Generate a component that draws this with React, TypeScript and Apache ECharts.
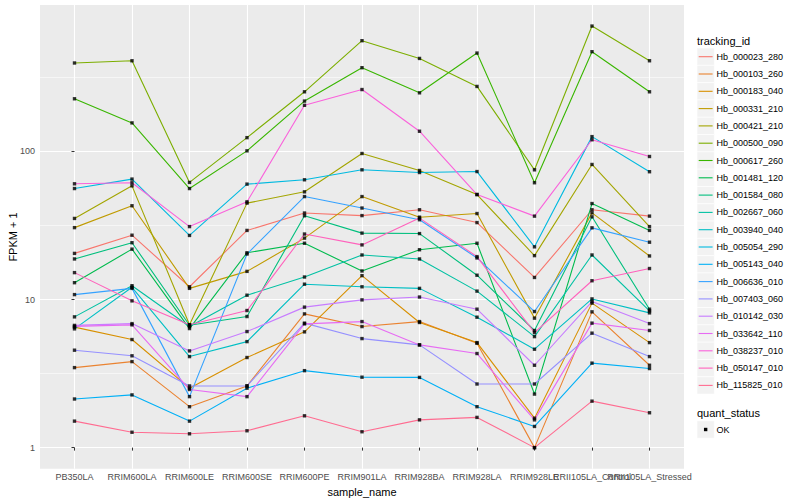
import React, { useEffect, useRef } from "react";
import * as echarts from "echarts";

const categories = [
  "PB350LA", "RRIM600LA", "RRIM600LE", "RRIM600SE", "RRIM600PE", "RRIM901LA",
  "RRIM928BA", "RRIM928LA", "RRIM928LE", "RRII105LA_Control", "RRII105LA_Stressed",
];

const trackingIds = [
  "Hb_000023_280", "Hb_000103_260", "Hb_000183_040", "Hb_000331_210", "Hb_000421_210",
  "Hb_000500_090", "Hb_000617_260", "Hb_001481_120", "Hb_001584_080", "Hb_002667_060",
  "Hb_003940_040", "Hb_005054_290", "Hb_005143_040", "Hb_006636_010", "Hb_007403_060",
  "Hb_010142_030", "Hb_033642_110", "Hb_038237_010", "Hb_050147_010", "Hb_115825_010",
];

const colors = [
  "#F8766D", "#EA8331", "#D89000", "#C09B00", "#A3A500", "#7CAE00", "#39B600", "#00BB4E",
  "#00BF7D", "#00C1A3", "#00BFC4", "#00BAE0", "#00B0F6", "#35A2FF", "#9590FF", "#C77CFF",
  "#E76BF3", "#FA62DB", "#FF62BC", "#FF6C91",
];

// FPKM + 1 per sample, in category order
const hb000023_280 = [20.5, 27.2, 12.2, 29.3, 38.4, 36.9, 40.4, 33.1, 14.1, 40.4, 36.6];
const hb000103_260 = [3.47, 3.81, 1.89, 2.61, 8.0, 6.57, 7.1, 5.07, 1.0, 8.26, 3.6];
const hb000183_040 = [6.51, 5.37, 2.52, 4.06, 6.05, 14.5, 7.0, 5.12, 1.58, 9.46, 5.12];
const hb000331_210 = [30.6, 43.0, 11.9, 15.5, 26.0, 49.6, 36.0, 38.1, 7.49, 38.5, 19.7];
const hb000421_210 = [35.3, 58.6, 6.75, 44.8, 53.4, 96.9, 74.4, 51.2, 19.8, 81.7, 31.1];
const hb000500_090 = [396, 410, 61.8, 124, 253, 560, 425, 275, 75.2, 703, 410];
const hb000617_260 = [227, 156, 56.2, 101, 219, 368, 249, 462, 61.5, 472, 253];
const hb001481_120 = [13.0, 21.9, 6.37, 20.7, 24.0, 15.6, 21.7, 24.0, 2.3, 44.5, 29.3];
const hb001584_080 = [18.8, 24.2, 6.71, 7.68, 36.8, 28.1, 27.9, 14.6, 6.18, 36.2, 8.61];
const hb002667_060 = [7.64, 12.4, 6.57, 10.7, 14.2, 20.0, 18.8, 11.4, 5.62, 20.0, 8.39];
const hb003940_040 = [6.34, 12.1, 4.12, 5.2, 12.7, 12.2, 11.9, 7.6, 4.62, 10.1, 8.13];
const hb005054_290 = [56.2, 65.1, 27.1, 60.2, 64.4, 75.2, 72.1, 73.2, 22.7, 126, 73.0];
const hb005143_040 = [2.13, 2.27, 1.51, 2.52, 3.31, 2.99, 2.98, 1.89, 1.39, 3.72, 3.42];
const hb006636_010 = [10.8, 11.9, 2.21, 20.3, 49.6, 41.5, 34.6, 19.1, 8.3, 30.5, 24.4];
const hb007403_060 = [4.55, 4.17, 2.61, 2.61, 6.93, 5.45, 4.94, 2.69, 2.69, 5.93, 4.12];
const hb010142_030 = [6.69, 6.88, 4.5, 6.08, 8.89, 9.95, 10.4, 8.61, 3.6, 9.69, 6.88];
const hb033642_110 = [6.59, 6.75, 2.47, 2.21, 6.85, 7.1, 4.94, 4.32, 1.54, 6.93, 6.18];
const hb038237_010 = [60.5, 61.5, 31.1, 45.7, 205, 262, 137, 51.2, 36.6, 120, 92.5];
const hb050147_010 = [15.2, 9.8, 6.75, 8.43, 27.7, 23.4, 35.5, 19.5, 5.98, 13.4, 16.2];
const hb115825_010 = [1.51, 1.27, 1.24, 1.3, 1.64, 1.28, 1.54, 1.6, 1.0, 2.06, 1.72];

const seriesValues = [
  hb000023_280, hb000103_260, hb000183_040, hb000331_210, hb000421_210, hb000500_090,
  hb000617_260, hb001481_120, hb001584_080, hb002667_060, hb003940_040, hb005054_290,
  hb005143_040, hb006636_010, hb007403_060, hb010142_030, hb033642_110, hb038237_010,
  hb050147_010, hb115825_010,
];

const yMajorBreaks = [1, 10, 100];
const yMinorBreaks = [3.1623, 31.623, 316.23];
const quantStatus = ["OK"];

export default function App() {
  const ref = useRef<HTMLDivElement>(null);
  useEffect(() => {
    document.body.style.margin = "0";
    const chart = echarts.init(ref.current!, null, { renderer: "svg" });
    const font = "'Liberation Sans', Arial, Helvetica, sans-serif";
    const logs = seriesValues.map((arr) => arr.map((v) => Math.log10(v)));
    const flat = logs.flat();
    const lo = Math.min(...flat);
    const hi = Math.max(...flat);
    const pad = (hi - lo) * 0.05;
    const yMin = lo - pad;
    const yMax = hi + pad;
    const n = categories.length;
    const xTicks = categories.map((_, i) => i);
    const xEven = xTicks.filter((i) => i % 2 === 0);
    const xOdd = xTicks.filter((i) => i % 2 === 1);
    const majorLog = yMajorBreaks.map((v) => Math.log10(v));
    const minorLog = yMinorBreaks.map((v) => Math.log10(v));

    const lineSeries = logs.map((arr, si) => ({
      type: "line",
      name: trackingIds[si],
      xAxisIndex: 0,
      yAxisIndex: 1,
      data: arr.map((y, i) => [i, y]),
      showSymbol: false,
      symbol: "none",
      lineStyle: { color: colors[si], width: 1.1 },
      itemStyle: { color: colors[si] },
      z: 2,
      silent: true,
    }));

    const pointData: number[][] = [];
    logs.forEach((arr) => arr.forEach((y, i) => pointData.push([i, y])));

    const legendTop = 56.7;
    const step = 17.3;
    const legendGraphics: any[] = [
      {
        type: "text",
        x: 697,
        y: 40.5,
        style: { text: "tracking_id", fontSize: 11, fontFamily: font, fill: "#000", align: "left", verticalAlign: "middle" },
      },
    ];
    trackingIds.forEach((name, i) => {
      const cy = legendTop + step * i;
      legendGraphics.push(
        { type: "rect", shape: { x: 697, y: cy - step / 2, width: step, height: step }, style: { fill: "#F2F2F2", stroke: "#FFFFFF", lineWidth: 0.6 } },
        { type: "line", shape: { x1: 698.7, y1: cy, x2: 712.6, y2: cy }, style: { stroke: colors[i], lineWidth: 1.1 } },
        { type: "text", x: 716.5, y: cy, style: { text: name, fontSize: 9, fontFamily: font, fill: "#000", align: "left", verticalAlign: "middle" } }
      );
    });
    legendGraphics.push({
      type: "text",
      x: 697,
      y: 412.7,
      style: { text: "quant_status", fontSize: 11, fontFamily: font, fill: "#000", align: "left", verticalAlign: "middle" },
    });
    quantStatus.forEach((s, i) => {
      const cy = 429.5 + step * i;
      legendGraphics.push(
        { type: "rect", shape: { x: 697, y: cy - step / 2, width: step, height: step }, style: { fill: "#F2F2F2", stroke: "#FFFFFF", lineWidth: 0.6 } },
        { type: "rect", shape: { x: 697 + step / 2 - 1.7, y: cy - 1.7, width: 3.4, height: 3.4 }, style: { fill: "#000" } },
        { type: "text", x: 716.5, y: cy, style: { text: s, fontSize: 9, fontFamily: font, fill: "#000", align: "left", verticalAlign: "middle" } }
      );
    });
    legendGraphics.push(
      {
        type: "text",
        x: 13,
        y: 237,
        rotation: Math.PI / 2,
        style: { text: "FPKM + 1", fontSize: 11, fontFamily: font, fill: "#000", align: "center", verticalAlign: "middle" },
      },
      {
        type: "text",
        x: 362,
        y: 491.5,
        style: { text: "sample_name", fontSize: 11, fontFamily: font, fill: "#000", align: "center", verticalAlign: "middle" },
      }
    );

    const xLabelBase = {
      show: true,
      formatter: (v: number) => categories[Math.round(v)] ?? "",
      color: "#4D4D4D",
      fontSize: 9,
      fontFamily: font,
      margin: 4,
      hideOverlap: false,
      showMinLabel: true,
      showMaxLabel: true,
    };

    const option: any = {
      animation: false,
      backgroundColor: "#FFFFFF",
      grid: {
        left: 40,
        top: 5,
        right: 116,
        bottom: 31.3,
        show: true,
        backgroundColor: "#EBEBEB",
        borderWidth: 0,
      },
      xAxis: [
        {
          type: "value",
          min: -0.6,
          max: n - 1 + 0.6,
          position: "bottom",
          axisLine: { show: false },
          axisTick: { show: true, length: 3, lineStyle: { color: "#333333", width: 1 }, customValues: xTicks },
          axisLabel: { ...xLabelBase, customValues: xEven },
          splitLine: { show: true, lineStyle: { color: "#FFFFFF", width: 1.1 } },
        },
        {
          type: "value",
          min: -0.6,
          max: n - 1 + 0.6,
          position: "bottom",
          offset: 0,
          axisLine: { show: false },
          axisTick: { show: false, customValues: xOdd },
          axisLabel: { ...xLabelBase, customValues: xOdd },
          splitLine: { show: false },
        },
      ],
      yAxis: [
        {
          type: "value",
          min: yMin,
          max: yMax,
          position: "left",
          axisLine: { show: false },
          axisTick: { show: false, customValues: minorLog },
          axisLabel: { show: false, customValues: minorLog },
          splitLine: { show: true, lineStyle: { color: "#FFFFFF", width: 0.55 } },
        },
        {
          type: "value",
          min: yMin,
          max: yMax,
          position: "left",
          axisLine: { show: false },
          axisTick: { show: true, length: 3, lineStyle: { color: "#333333", width: 1 }, customValues: majorLog },
          axisLabel: {
            show: true,
            customValues: majorLog,
            formatter: (v: number) => String(Math.round(Math.pow(10, v))),
            color: "#4D4D4D",
            fontSize: 9,
            fontFamily: font,
            margin: 5,
            showMinLabel: true,
            showMaxLabel: true,
          },
          splitLine: { show: true, lineStyle: { color: "#FFFFFF", width: 1.1 } },
        },
      ],
      series: [
        ...lineSeries,
        {
          type: "scatter",
          name: "OK",
          xAxisIndex: 0,
          yAxisIndex: 1,
          data: pointData,
          symbol: "rect",
          symbolSize: 3.4,
          itemStyle: { color: "#000000" },
          z: 3,
          silent: true,
        },
      ],
      graphic: legendGraphics,
    };
    chart.setOption(option);
    return () => chart.dispose();
  }, []);
  return <div ref={ref} style={{ width: 800, height: 500 }} />;
}
